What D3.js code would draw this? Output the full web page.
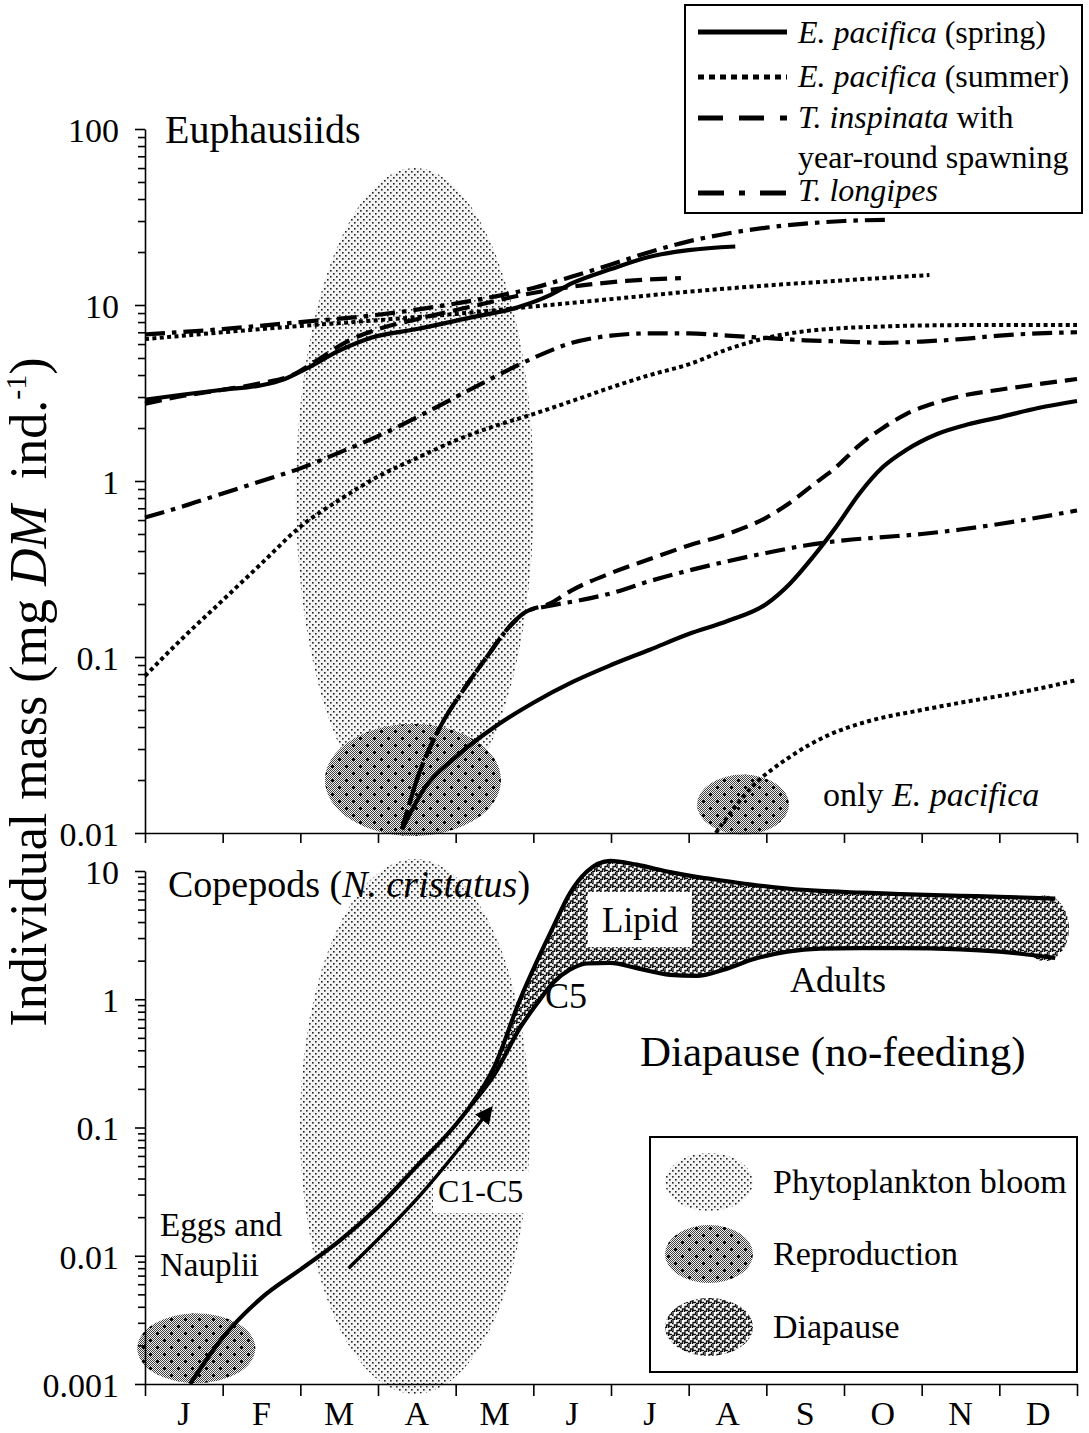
<!DOCTYPE html>
<html><head><meta charset="utf-8">
<script src="https://cdn.jsdelivr.net/npm/d3@7"></script>
<style>body{margin:0;background:#fff}svg{display:block}</style>
</head><body>
<script>
// ---------- DATA ----------
const months = ["J","F","M","A","M","J","J","A","S","O","N","D"];
const monthBounds = [0,1,2,3,4,5,6,7,8,9,10,11,12];
const topTickValues = [0.01,0.1,1,10,100];
const topTickLabels = ["0.01","0.1","1","10","100"];
const botTickValues = [0.001,0.01,0.1,1,10];
const botTickLabels = ["0.001","0.01","0.1","1","10"];

// Euphausiids: [month, mg DM ind-1]
const epSpringAdult = [[0,2.9],[0.5,3.1],[1.0,3.3],[1.5,3.5],[1.8,3.8],[2.1,4.4],[2.5,5.5],[2.9,6.5],[3.5,7.3],[4.2,8.5],[4.8,9.7],[5.2,11.3],[5.5,13.3],[6.0,16],[6.5,18.8],[7.0,20.5],[7.6,21.5]];
const epSpringJuv = [[3.31,0.0105],[3.6,0.018],[4.0,0.027],[4.5,0.04],[5.0,0.055],[5.5,0.072],[6.0,0.09],[6.5,0.11],[7.0,0.135],[7.5,0.16],[8.0,0.2],[8.3,0.26],[8.6,0.37],[8.9,0.55],[9.2,0.85],[9.5,1.2],[9.8,1.5],[10.2,1.85],[10.6,2.1],[11.0,2.3],[11.5,2.6],[12,2.85]];
const epSummerAdult = [[0,6.4],[1,7.0],[2,7.6],[3,8.2],[4,8.9],[5,9.8],[6,10.8],[7,11.9],[8,12.9],[9,13.8],[10.1,14.8]];
const epSummerMid = [[0,0.078],[0.5,0.13],[1.0,0.21],[1.5,0.34],[2.0,0.55],[2.5,0.78],[3.0,1.06],[3.5,1.35],[4.0,1.7],[4.5,2.05],[5.0,2.4],[5.5,2.85],[6.0,3.4],[6.5,4.0],[7.0,4.6],[7.5,5.6],[8.0,6.5],[8.5,7.1],[9.0,7.4],[9.5,7.55],[10,7.65],[11,7.7],[12,7.7]];
const epSummerJuv = [[7.35,0.01],[7.8,0.018],[8.3,0.027],[8.8,0.036],[9.3,0.043],[10,0.05],[10.5,0.055],[11,0.06],[11.5,0.066],[12,0.074]];
const tiAdult = [[0,2.75],[0.5,3.05],[1.0,3.3],[1.5,3.6],[1.9,4.0],[2.2,4.8],[2.6,6.2],[3.0,7.3],[3.5,8.3],[4.2,9.8],[4.9,11.5],[5.5,12.7],[6.2,13.7],[6.9,14.2]];
const tiJuv = [[3.31,0.0105],[3.5,0.02],[3.8,0.04],[4.1,0.065],[4.4,0.1],[4.7,0.15],[4.9,0.18],[5.2,0.2],[5.5,0.24],[6.0,0.3],[6.5,0.36],[7.0,0.43],[7.5,0.5],[8.0,0.62],[8.3,0.75],[8.6,0.95],[8.9,1.2],[9.2,1.6],[9.5,2.0],[9.8,2.4],[10.2,2.8],[10.6,3.1],[11,3.3],[11.5,3.55],[12,3.8]];
const tlAdult = [[0,6.8],[1,7.3],[2,8.0],[3,8.8],[4,10.2],[5,12.5],[5.5,14.5],[6,17],[6.5,20],[7,23],[7.5,25.5],[8,27.5],[8.5,29],[9,30],[9.57,30.5]];
const tlMid = [[0,0.62],[0.5,0.72],[1.0,0.85],[1.5,1.0],[2.0,1.18],[2.5,1.45],[3.0,1.8],[3.5,2.3],[4.0,3.0],[4.5,3.9],[5.0,5.0],[5.5,6.1],[6.0,6.7],[6.5,6.9],[7.0,6.9],[7.5,6.7],[8.0,6.5],[8.5,6.3],[9.0,6.2],[9.5,6.1],[10,6.2],[10.5,6.4],[11,6.7],[11.5,6.9],[12,7.0]];
const tlJuv = [[3.31,0.0105],[3.5,0.02],[3.8,0.04],[4.1,0.065],[4.4,0.1],[4.7,0.15],[4.9,0.18],[5.2,0.195],[5.6,0.21],[6.0,0.23],[6.5,0.27],[7.0,0.31],[7.5,0.35],[8.0,0.39],[8.5,0.43],[9.0,0.46],[9.5,0.48],[10,0.5],[10.5,0.53],[11,0.57],[11.5,0.62],[12,0.68]];

// Copepods (N. cristatus)
const copEarly = [[0.58,0.001],[1.0,0.0023],[1.5,0.0047],[2.0,0.0078],[2.5,0.013],[3.0,0.024],[3.5,0.05],[4.0,0.105],[4.2,0.15]];
const copMonths = [4.2,4.5,4.83,5.05,5.25,5.47,5.69,5.99,6.33,6.76,7.1,7.45,7.83,8.27,8.69,9.2,9.72,10.5,11.0,11.72];
const copTotal  = [0.15,0.3,1.0,2.0,3.6,6.7,9.9,12,11.2,9.8,9.0,8.4,7.8,7.3,7.0,6.8,6.6,6.4,6.3,6.1];
const copBody   = [0.15,0.26,0.6,0.93,1.34,1.7,1.9,1.92,1.75,1.55,1.52,1.7,2.05,2.35,2.48,2.5,2.5,2.45,2.35,2.1];
const c1c5Arrow = [[2.62,0.008],[3.55,0.03],[4.45,0.14]];

// ---------- CHART ----------
const W=1089,H=1433;
const FONT='"Liberation Serif","Times New Roman",Times,serif';
const svg=d3.select("body").append("svg").attr("width",W).attr("height",H)
  .style("font-family",FONT);
const x=d3.scaleLinear().domain([0,12]).range([145,1077]);
const yT=d3.scaleLog().domain([0.01,100]).range([833,129]);
const yB=d3.scaleLog().domain([0.001,10]).range([1384,871]);

const defs=svg.append("defs");
// bloom pattern
const pb=defs.append("pattern").attr("id","bloom").attr("width",6).attr("height",6).attr("patternUnits","userSpaceOnUse");
pb.append("rect").attr("width",6).attr("height",6).attr("fill","#f4f4f4");
pb.append("rect").attr("x",0).attr("y",0).attr("width",1.6).attr("height",1.6).attr("fill","#222");
pb.append("rect").attr("x",3).attr("y",3).attr("width",1.6).attr("height",1.6).attr("fill","#222");
// checker
const pc=defs.append("pattern").attr("id","checker").attr("width",2).attr("height",2).attr("patternUnits","userSpaceOnUse");
pc.append("rect").attr("width",2).attr("height",2).attr("fill","#f0f0f0");
pc.append("rect").attr("width",1).attr("height",1).attr("fill","#404040");
pc.append("rect").attr("x",1).attr("y",1).attr("width",1).attr("height",1).attr("fill","#404040");
// reproduction
const pr=defs.append("pattern").attr("id","repro").attr("width",14).attr("height",14).attr("patternUnits","userSpaceOnUse");
pr.append("rect").attr("width",14).attr("height",14).attr("fill","url(#checker)");
pr.append("path").attr("d","M2,3.5h3M3.5,2v3M9,10.5h3M10.5,9v3").attr("stroke","#000").attr("stroke-width",1.4);
// diapause weave
const pd=defs.append("pattern").attr("id","diap").attr("width",8).attr("height",8).attr("patternUnits","userSpaceOnUse");
pd.append("rect").attr("width",8).attr("height",8).attr("fill","#fff");
pd.append("path").attr("d","M0,7.5h2.5v-2.5h2.5v-2.5h2.5v-2.5M0,3.5h1v-3.5M4.5,8v-1.5h3.5")
  .attr("stroke","#111").attr("stroke-width",1.3).attr("fill","none");
// arrow marker
defs.append("marker").attr("id","arrow").attr("viewBox","0 0 10 10").attr("refX",8).attr("refY",5)
  .attr("markerWidth",5).attr("markerHeight",5).attr("orient","auto")
  .append("path").attr("d","M0,0L10,5L0,10z").attr("fill","#000");

// ----- ellipses -----
function ell(cx,cy,rx,ry,fill){svg.append("ellipse").attr("cx",cx).attr("cy",cy).attr("rx",rx).attr("ry",ry).attr("fill",fill);}
ell((x(2)+x(5))/2-2, (yT(60)+yT(0.012))/2, 119, (yT(0.012)-yT(60))/2, "url(#bloom)");
ell(x(3.45), yT(0.02), 88, 56, "url(#repro)");
ell(x(7.7), yT(0.0145), 46, 30, "url(#repro)");
ell(x(3.475), (yB(10)+yB(0.001))/2-1, 115, (yB(0.001)-yB(10))/2+11, "url(#bloom)");
ell(x(0.66), yB(0.0019), 59, 35, "url(#repro)");

// ----- lines -----
const styles={
  solid:{w:4.2,dash:null},
  dotted:{w:4,dash:"4,3.4"},
  dashed:{w:4.2,dash:"17,8"},
  dashdot:{w:4.2,dash:"20,7,4.5,7"}
};
const lineT=d3.line().x(d=>x(d[0])).y(d=>yT(d[1])).curve(d3.curveMonotoneX);
const lineB=d3.line().x(d=>x(d[0])).y(d=>yB(d[1])).curve(d3.curveMonotoneX);
function drawLine(data,gen,st){
  const s=styles[st];
  svg.append("path").attr("d",gen(data)).attr("fill","none").attr("stroke","#000")
    .attr("stroke-width",s.w).attr("stroke-dasharray",s.dash).attr("stroke-linecap","butt");
}
drawLine(tlAdult,lineT,"dashdot");
drawLine(tlMid,lineT,"dashdot");
drawLine(tlJuv,lineT,"dashdot");
drawLine(tiAdult,lineT,"dashed");
drawLine(tiJuv,lineT,"dashed");
drawLine(epSummerAdult,lineT,"dotted");
drawLine(epSummerMid,lineT,"dotted");
drawLine(epSummerJuv,lineT,"dotted");
drawLine(epSpringAdult,lineT,"solid");
drawLine(epSpringJuv,lineT,"solid");

// ----- copepods -----
const copT=copMonths.map((m,i)=>[m,copTotal[i]]);
const copBd=copMonths.map((m,i)=>[m,copBody[i]]);
ell(1045, (yB(6.1)+yB(2.1))/2, 24, 33, "url(#diap)");
svg.append("path").attr("d",d3.area().x(d=>x(d[0])).y0((d,i)=>yB(copBody[i])).y1(d=>yB(d[1])).curve(d3.curveMonotoneX)(copT))
  .attr("fill","url(#diap)");
drawLine(copEarly.concat(copT.slice(1)),lineB,"solid");
drawLine(copBd,lineB,"solid");
svg.append("rect").attr("x",433).attr("y",1171).attr("width",95).attr("height",42).attr("fill","#fff");
svg.append("path").attr("d",d3.line().x(d=>x(d[0])).y(d=>yB(d[1])).curve(d3.curveNatural)(c1c5Arrow))
  .attr("fill","none").attr("stroke","#000").attr("stroke-width",3.5).attr("marker-end","url(#arrow)");

// ----- axes -----
function styleAxis(g){g.selectAll("path,line").attr("stroke","#000").attr("stroke-width",1.6);
  g.selectAll("text").attr("font-family",FONT).attr("font-size",34).attr("fill","#000");}
function minorVals(lo,hi){const a=[];for(let e=lo;e<hi;e++)for(let k=2;k<=9;k++)a.push(k*Math.pow(10,e));return a;}
svg.append("g").attr("transform","translate(145,0)")
  .call(d3.axisLeft(yT).tickValues(topTickValues).tickFormat((d,i)=>topTickLabels[i]).tickSize(10).tickSizeOuter(0).tickPadding(16))
  .call(styleAxis).call(g=>g.selectAll("text").attr("dy","0.36em"));
svg.append("g").attr("transform","translate(145,0)")
  .call(d3.axisLeft(yT).tickValues(minorVals(-2,2)).tickFormat("").tickSize(7).tickSizeOuter(0))
  .call(styleAxis).call(g=>g.select(".domain").remove());
svg.append("g").attr("transform","translate(145,0)")
  .call(d3.axisLeft(yB).tickValues(botTickValues).tickFormat((d,i)=>botTickLabels[i]).tickSize(10).tickSizeOuter(0).tickPadding(16))
  .call(styleAxis).call(g=>g.selectAll("text").attr("dy","0.36em"));
svg.append("g").attr("transform","translate(145,0)")
  .call(d3.axisLeft(yB).tickValues(minorVals(-3,1)).tickFormat("").tickSize(7).tickSizeOuter(0))
  .call(styleAxis).call(g=>g.select(".domain").remove());
svg.append("g").attr("transform","translate(0,833)")
  .call(d3.axisBottom(x).tickValues(monthBounds).tickFormat("").tickSize(10).tickSizeOuter(0)).call(styleAxis);
svg.append("g").attr("transform","translate(0,1384)")
  .call(d3.axisBottom(x).tickValues(monthBounds).tickFormat("").tickSize(12).tickSizeOuter(0)).call(styleAxis);
svg.append("g").selectAll("text").data(months).join("text")
  .attr("x",(d,i)=>x(i+0.5)).attr("y",1425).attr("text-anchor","middle")
  .attr("font-size",34).text(d=>d);

// y title
const yt=svg.append("text").attr("transform","translate(46,692) rotate(-90)").attr("text-anchor","middle").attr("font-size",52);
yt.append("tspan").text("Individual mass (mg ");
yt.append("tspan").attr("font-style","italic").text("DM");
yt.append("tspan").text("\u00a0 ind.");
yt.append("tspan").attr("font-size",30).attr("dy",-20).text("-1");
yt.append("tspan").attr("dy",20).text(")");

// ----- labels -----
function txt(xp,yp,size,parts,anchor){
  const t=svg.append("text").attr("x",xp).attr("y",yp).attr("font-size",size).attr("text-anchor",anchor||"start");
  parts.forEach(p=>{const s=t.append("tspan").text(p[0]); if(p[1])s.attr("font-style","italic");});
  return t;
}
txt(165,143,40,[["Euphausiids"]]);
txt(168,897,38,[["Copepods ("],["N. cristatus",1],[")"]]);
txt(823,806,34,[["only "],["E. pacifica",1]]);
svg.append("rect").attr("x",588).attr("y",892).attr("width",104).attr("height",55).attr("fill","#fff");
txt(640,932,35,[["Lipid"]],"middle");
txt(545,1008,36,[["C5"]]);
txt(790,992,36,[["Adults"]]);
txt(640,1066,43,[["Diapause (no-feeding)"]]);
txt(438,1202,32,[["C1-C5"]]);
txt(160,1236,33,[["Eggs and"]]);
txt(160,1276,33,[["Nauplii"]]);

// ----- top legend -----
svg.append("rect").attr("x",685).attr("y",5).attr("width",397).attr("height",208).attr("fill","#fff").attr("stroke","#000").attr("stroke-width",2);
const legItems=[
  {y:32,dash:null,parts:[["E. pacifica",1],[" (spring)"]],ty:43},
  {y:77,dash:"6,5",parts:[["E. pacifica",1],[" (summer)"]],ty:87},
  {y:118,dash:"25,16",parts:[["T. inspinata",1],[" with"]],ty:128},
  {y:193,dash:"26,15,6,15",parts:[["T. longipes",1]],ty:201}
];
legItems.forEach(it=>{
  svg.append("line").attr("x1",698).attr("x2",787).attr("y1",it.y).attr("y2",it.y)
    .attr("stroke","#000").attr("stroke-width",5).attr("stroke-dasharray",it.dash);
  txt(798,it.ty,32,it.parts);
});
txt(798,168,32,[["year-round spawning"]]);

// ----- bottom legend -----
svg.append("rect").attr("x",650).attr("y",1137).attr("width",427).attr("height",235).attr("fill","#fff").attr("stroke","#000").attr("stroke-width",2);
[["url(#bloom)","Phytoplankton bloom",1182],["url(#repro)","Reproduction",1254],["url(#diap)","Diapause",1327]].forEach(d=>{
  ell(709,d[2],44,29,d[0]);
  txt(773,d[2]+11,34,[[d[1]]]);
});
</script>
</body></html>
